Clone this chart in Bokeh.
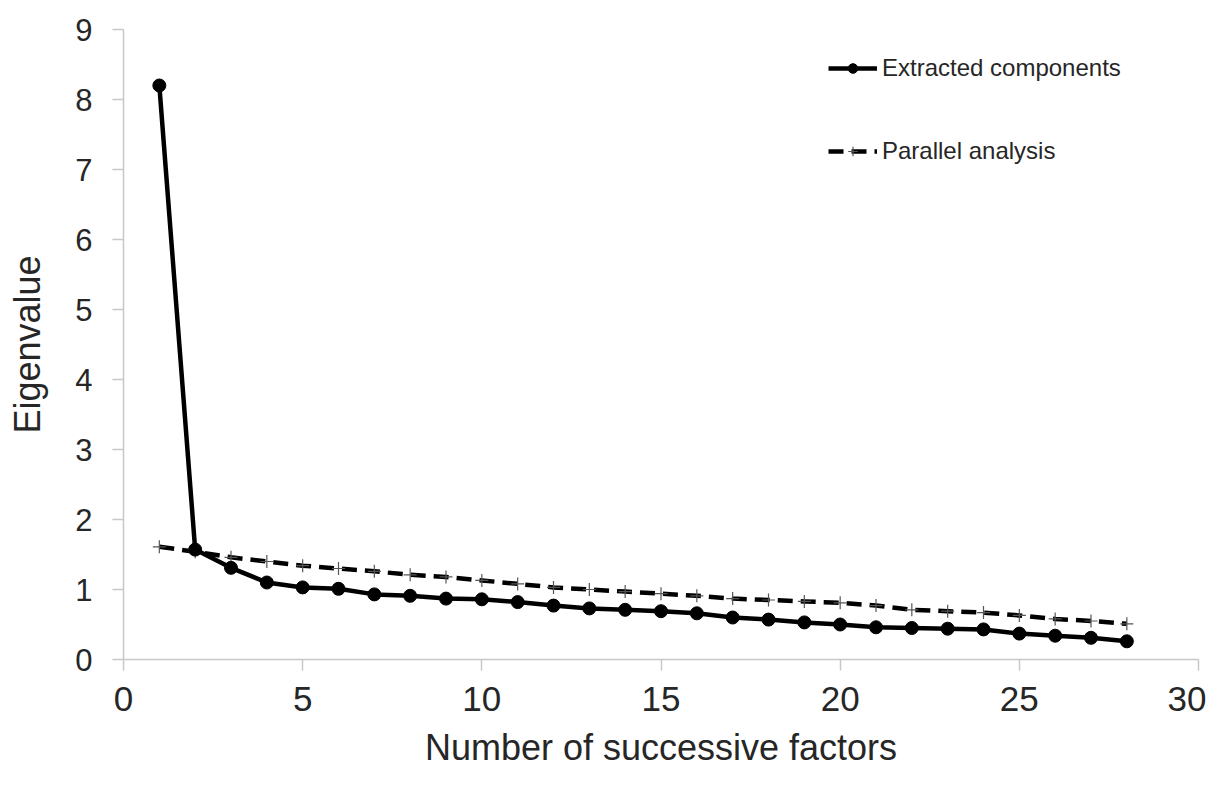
from bokeh.plotting import figure
from bokeh.models import Range1d, FixedTicker, Legend, LegendItem
from bokeh.embed import file_html
from bokeh.resources import INLINE

factors = list(range(1, 29))
extracted = [8.20, 1.57, 1.31, 1.10, 1.03, 1.01, 0.93, 0.91, 0.87, 0.86,
             0.82, 0.77, 0.73, 0.71, 0.69, 0.66, 0.60, 0.57, 0.53, 0.50,
             0.46, 0.45, 0.44, 0.43, 0.37, 0.34, 0.31, 0.26]
parallel = [1.61, 1.54, 1.46, 1.40, 1.34, 1.30, 1.26, 1.21, 1.18, 1.13,
            1.08, 1.03, 1.00, 0.97, 0.94, 0.91, 0.87, 0.85, 0.83, 0.81,
            0.77, 0.71, 0.69, 0.67, 0.63, 0.58, 0.55, 0.51]
x_ticks = [0, 5, 10, 15, 20, 25, 30]
y_ticks = [0, 1, 2, 3, 4, 5, 6, 7, 8, 9]
x_title = "Number of successive factors"
y_title = "Eigenvalue"

FONT = "Liberation Sans"
TXT = "#262626"
AX = "#c8c8c8"

p = figure(width=1206, height=771, output_backend="svg", toolbar_location=None,
           x_range=Range1d(0, 30), y_range=Range1d(0, 9),
           min_border_left=123, min_border_right=8, min_border_top=29,
           min_border_bottom=112)
p.outline_line_color = None
p.grid.visible = False
p.background_fill_color = "white"
p.border_fill_color = "white"

for ax in (p.xaxis[0], p.yaxis[0]):
    ax.axis_line_color = AX
    ax.axis_line_width = 1.5
    ax.major_tick_line_color = AX
    ax.major_tick_line_width = 1.5
    ax.major_tick_out = 11
    ax.major_tick_in = 0
    ax.minor_tick_line_color = None
    ax.major_label_text_font = FONT
    ax.major_label_text_color = TXT
    ax.axis_label_text_font = FONT
    ax.axis_label_text_color = TXT
    ax.axis_label_text_font_style = "normal"
    ax.axis_label_text_font_size = "36px"

p.xaxis.ticker = FixedTicker(ticks=x_ticks)
p.yaxis.ticker = FixedTicker(ticks=y_ticks)
p.xaxis.major_label_text_font_size = "35px"
p.yaxis.major_label_text_font_size = "31px"
p.xaxis.major_label_standoff = 16
p.yaxis.major_label_standoff = 20
p.xaxis.axis_label = x_title
p.yaxis.axis_label = y_title
p.xaxis.axis_label_standoff = 13
p.yaxis.axis_label_standoff = 24

r_par_line = p.line(factors, parallel, line_color="black", line_width=4.5,
                    line_dash="15 8")
r_par_mark = p.scatter(factors, parallel, marker="cross", size=13,
                       line_color="#555555", line_width=1.2)
r_ext_line = p.line(factors, extracted, line_color="black", line_width=4.5)
r_ext_mark = p.scatter(factors, extracted, marker="circle", size=13,
                       fill_color="black", line_color="black")

legend = Legend(items=[
    LegendItem(label="Extracted components", renderers=[r_ext_line, r_ext_mark]),
    LegendItem(label="Parallel analysis", renderers=[r_par_line, r_par_mark]),
], location=(705, 494))
legend.label_text_font = FONT
legend.label_text_font_size = "24px"
legend.label_text_color = TXT
legend.glyph_width = 49
legend.glyph_height = 24
legend.label_height = 24
legend.label_standoff = 5
legend.spacing = 55
legend.padding = 0
legend.margin = 0
legend.border_line_color = None
legend.background_fill_alpha = 0
p.add_layout(legend)

open("out.html", "w").write(file_html(p, INLINE))
